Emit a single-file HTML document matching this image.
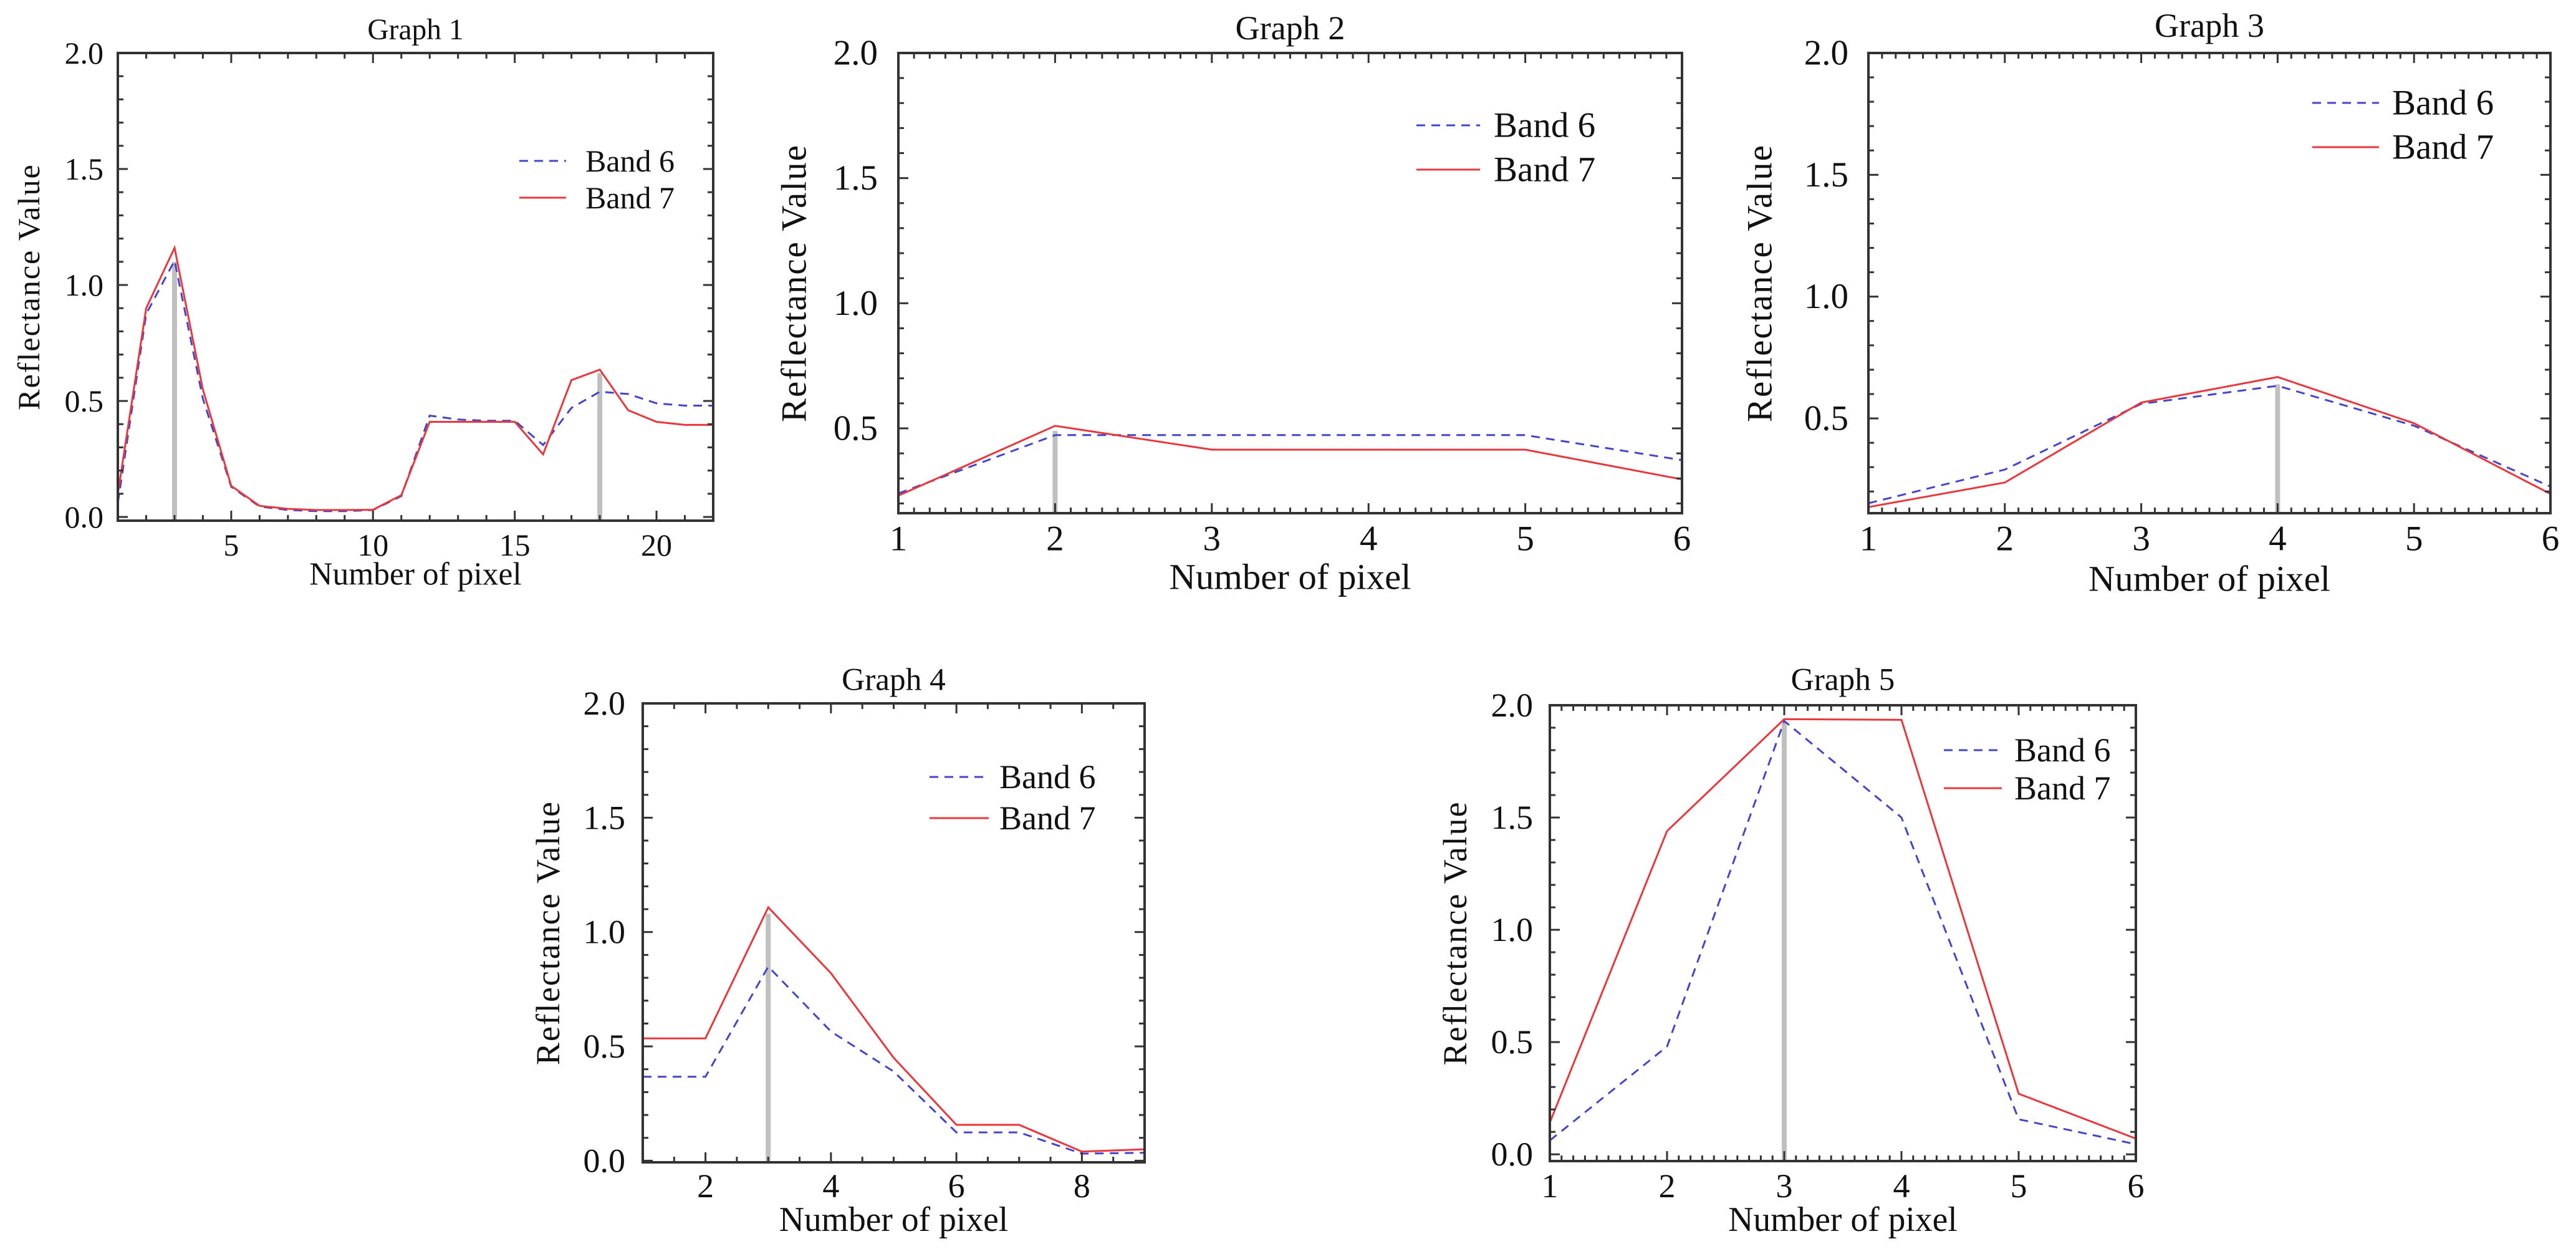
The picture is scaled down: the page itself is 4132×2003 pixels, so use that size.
<!DOCTYPE html>
<html>
<head>
<meta charset="utf-8">
<style>
html,body{margin:0;padding:0;background:#fff;}
svg{display:block;font-family:"Liberation Serif","Times New Roman",serif;}
</style>
</head>
<body>
<svg id="fig" width="4132" height="2003" viewBox="0 0 4132 2003" xmlns="http://www.w3.org/2000/svg"></svg>
<script>
// ---------- data ----------
const g1X = [1,2,3,4,5,6,7,8,9,10,11,12,13,14,15,16,17,18,19,20,21,22];
const g1Band6 = [0.06,0.875,1.105,0.51,0.13,0.045,0.03,0.025,0.025,0.03,0.09,0.437,0.42,0.415,0.415,0.31,0.47,0.54,0.53,0.49,0.48,0.48];
const g1Band7 = [0.10,0.90,1.16,0.55,0.134,0.048,0.035,0.03,0.03,0.031,0.094,0.41,0.41,0.41,0.41,0.27,0.59,0.635,0.46,0.41,0.397,0.397];
const g1Markers = [3,18];
const g1MarkerTops = [1.10,0.62];
const g1XTicks = [5,10,15,20];

const g2X = [1,2,3,4,5,6];
const g2Band6 = [0.24,0.473,0.473,0.473,0.473,0.373];
const g2Band7 = [0.231,0.51,0.415,0.415,0.415,0.296];
const g2Markers = [2];
const g2MarkerTops = [0.49];
const g2XTicks = [1,2,3,4,5,6];

const g3X = [1,2,3,4,5,6];
const g3Band6 = [0.152,0.29,0.56,0.634,0.47,0.22];
const g3Band7 = [0.136,0.237,0.565,0.67,0.48,0.19];
const g3Markers = [4];
const g3MarkerTops = [0.64];
const g3XTicks = [1,2,3,4,5,6];

const g4X = [1,2,3,4,5,6,7,8,9];
const g4Band6 = [0.367,0.367,0.849,0.565,0.39,0.124,0.124,0.031,0.035];
const g4Band7 = [0.535,0.535,1.108,0.82,0.45,0.157,0.157,0.04,0.05];
const g4Markers = [3];
const g4MarkerTops = [1.08];
const g4XTicks = [2,4,6,8];

const g5X = [1,2,3,4,5,6];
const g5Band6 = [0.062,0.48,1.93,1.5,0.156,0.045];
const g5Band7 = [0.142,1.44,1.938,1.935,0.27,0.07];
const g5Markers = [3];
const g5MarkerTops = [1.92];
const g5XTicks = [1,2,3,4,5,6];

const yTickValues = [0.0,0.5,1.0,1.5,2.0];
const yTickLabels = ["0.0","0.5","1.0","1.5","2.0"];
const legendLabels = ["Band 6","Band 7"];

// ---------- layout (geometry only) ----------
const layouts = [
 {name:"graph-1",title:"Graph 1",x:g1X,b6:g1Band6,b7:g1Band7,mk:g1Markers,mkTop:g1MarkerTops,xt:g1XTicks,
  L:189,R:1144,T:85,B:835,xmin:1,xmax:22,ymin:-0.016,ymax:2.0,xMinor:1,fs:50,
  titleY:48,yTitleX:46,labGap:23,xLabY:874,xTitleY:921,legX1:833,legX2:908,legY:[258,317],legTX:939},
 {name:"graph-2",title:"Graph 2",x:g2X,b6:g2Band6,b7:g2Band7,mk:g2Markers,mkTop:g2MarkerTops,xt:g2XTicks,
  L:1441,R:2698,T:85,B:823,xmin:1,xmax:6,ymin:0.161,ymax:2.0,xMinor:0.1,fs:57,
  titleY:45,yTitleX:1274,labGap:33,xLabY:864,xTitleY:925,legX1:2272,legX2:2374,legY:[201,272],legTX:2396},
 {name:"graph-3",title:"Graph 3",x:g3X,b6:g3Band6,b7:g3Band7,mk:g3Markers,mkTop:g3MarkerTops,xt:g3XTicks,
  L:2997,R:4091,T:85,B:823,xmin:1,xmax:6,ymin:0.111,ymax:2.0,xMinor:0.1,fs:57,
  titleY:41,yTitleX:2823,labGap:32,xLabY:864,xTitleY:928,legX1:3709,legX2:3816,legY:[165,236],legTX:3837},
 {name:"graph-4",title:"Graph 4",x:g4X,b6:g4Band6,b7:g4Band7,mk:g4Markers,mkTop:g4MarkerTops,xt:g4XTicks,
  L:1031,R:1836,T:1128,B:1864,xmin:1,xmax:9,ymin:-0.007,ymax:2.0,xMinor:0.5,fs:54,
  titleY:1090,yTitleX:879,labGap:28,xLabY:1902,xTitleY:1956,legX1:1491,legX2:1586,legY:[1246,1312],legTX:1603},
 {name:"graph-5",title:"Graph 5",x:g5X,b6:g5Band6,b7:g5Band7,mk:g5Markers,mkTop:g5MarkerTops,xt:g5XTicks,
  L:2486,R:3426,T:1131,B:1862,xmin:1,xmax:6,ymin:-0.03,ymax:2.0,xMinor:0.1,fs:54,
  titleY:1090,yTitleX:2334,labGap:27,xLabY:1902,xTitleY:1956,legX1:3118,legX2:3211,legY:[1203,1264],legTX:3231}
];

const NS = "http://www.w3.org/2000/svg";
const svg = document.getElementById("fig");
function mk(tag, attrs, parent){
  const e = document.createElementNS(NS, tag);
  for (const k in attrs) e.setAttribute(k, attrs[k]);
  parent.appendChild(e);
  return e;
}

layouts.forEach(function(c){
  const g = mk("g", {}, svg);
  
  
  const sx = v => c.L + (v - c.xmin) / (c.xmax - c.xmin) * (c.R - c.L);
  const sy = v => c.B - (v - c.ymin) / (c.ymax - c.ymin) * (c.B - c.T);

  // grey markers
  c.mk.forEach(function(mx, i){
    const m = mk("line", {x1:sx(mx),x2:sx(mx),y1:c.B,y2:sy(c.mkTop[i]),stroke:"#c0c0c0","stroke-width":8}, g);
    
    
  });

  // series
  const p6 = c.x.map((v,i)=>sx(v).toFixed(1)+","+sy(c.b6[i]).toFixed(1)).join(" ");
  const p7 = c.x.map((v,i)=>sx(v).toFixed(1)+","+sy(c.b7[i]).toFixed(1)).join(" ");
  const l6 = mk("polyline", {points:p6,fill:"none",stroke:"#4444cc","stroke-width":3,"stroke-dasharray":"14 10"}, g);
  
  
  const l7 = mk("polyline", {points:p7,fill:"none",stroke:"#e8383d","stroke-width":3}, g);
  
  

  // frame
  const fr = mk("rect", {x:c.L,y:c.T,width:c.R-c.L,height:c.B-c.T,fill:"none",stroke:"#333","stroke-width":4}, g);
  
  

  // ticks
  const tg = mk("g", {stroke:"#333","stroke-width":3}, g);
  
  
  for (let k = 0; k <= 20; k++){
    const v = k / 10;
    if (v < c.ymin - 1e-9) continue;
    const len = (k % 5 === 0) ? 16 : 9;
    const y = sy(v);
    mk("line", {x1:c.L,x2:c.L+len,y1:y,y2:y}, tg);
    mk("line", {x1:c.R,x2:c.R-len,y1:y,y2:y}, tg);
  }
  const nx = Math.round((c.xmax - c.xmin) / c.xMinor);
  for (let k = 0; k <= nx; k++){
    const v = c.xmin + k * c.xMinor;
    const major = c.xt.some(t => Math.abs(t - v) < 1e-6);
    const len = major ? 16 : 9;
    const x = sx(v);
    mk("line", {x1:x,x2:x,y1:c.B,y2:c.B-len}, tg);
    mk("line", {x1:x,x2:x,y1:c.T,y2:c.T+len}, tg);
  }

  // y tick labels
  yTickValues.forEach(function(v, i){
    if (v < c.ymin - 1e-9) return;
    const t = mk("text", {x:c.L-c.labGap,y:sy(v),"text-anchor":"end","dominant-baseline":"central","font-size":c.fs,fill:"#111"}, g);
    t.textContent = yTickLabels[i];
    
    
  });
  // x tick labels
  c.xt.forEach(function(v){
    const t = mk("text", {x:sx(v),y:c.xLabY,"text-anchor":"middle","dominant-baseline":"central","font-size":c.fs,fill:"#111"}, g);
    t.textContent = String(v);
    
    
  });

  // titles
  const tt = mk("text", {x:(c.L+c.R)/2,y:c.titleY,"text-anchor":"middle","dominant-baseline":"central","font-size":c.fs*0.95,fill:"#111"}, g);
  tt.textContent = c.title;
  
  
  const xt = mk("text", {x:(c.L+c.R)/2,y:c.xTitleY,"text-anchor":"middle","dominant-baseline":"central","font-size":c.fs*1.03,fill:"#111"}, g);
  xt.textContent = "Number of pixel";
  
  
  const cy = (c.T + c.B) / 2;
  const yt = mk("text", {x:c.yTitleX,y:cy,"text-anchor":"middle","dominant-baseline":"central","font-size":c.fs,fill:"#111","letter-spacing":2,transform:"rotate(-90 "+c.yTitleX+" "+cy+")"}, g);
  yt.textContent = "Reflectance Value";
  
  

  // legend
  const lg = mk("g", {}, g);
  
  
  legendLabels.forEach(function(lab, i){
    const y = c.legY[i];
    const ln = mk("line", {x1:c.legX1,x2:c.legX2,y1:y,y2:y,stroke:i===0?"#4444cc":"#e8383d","stroke-width":3,"stroke-dasharray":i===0?"14 10":"none"}, lg);
    
    
    const tx = mk("text", {x:c.legTX,y:y,"dominant-baseline":"central","font-size":c.fs,fill:"#111"}, lg);
    tx.textContent = lab;
    
    
  });
});
</script>
</body>
</html>
